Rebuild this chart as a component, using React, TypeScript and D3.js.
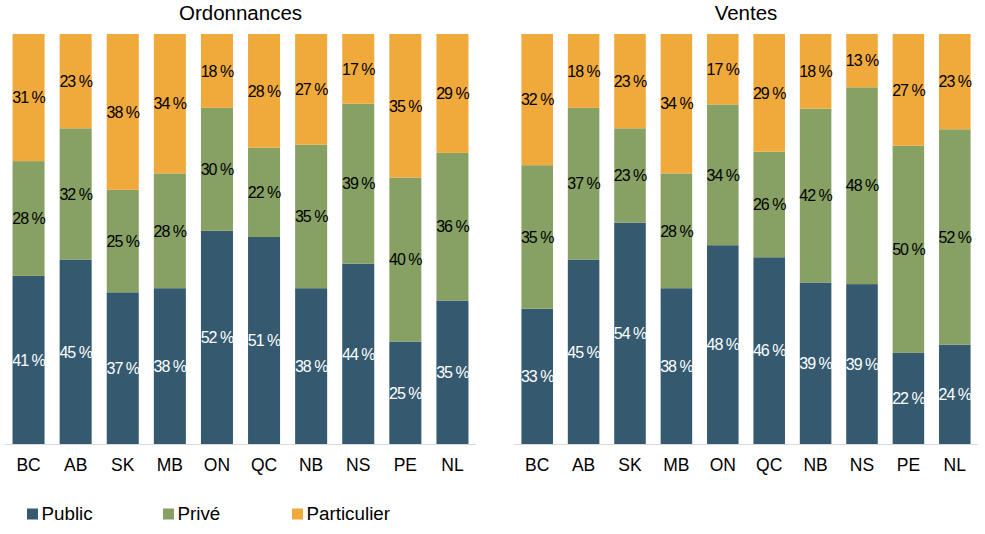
import React from "react";
import * as d3 from "d3";

const provinces = ["BC", "AB", "SK", "MB", "ON", "QC", "NB", "NS", "PE", "NL"];
const seriesNames = ["Public", "Privé", "Particulier"];
const seriesColors = ["#355a70", "#87a064", "#f0aa3c"];

const ordPublic = [41, 45, 37, 38, 52, 51, 38, 44, 25, 35];
const ordPrive = [28, 32, 25, 28, 30, 22, 35, 39, 40, 36];
const ordPart = [31, 23, 38, 34, 18, 28, 27, 17, 35, 29];

const ventPublic = [33, 45, 54, 38, 48, 46, 39, 39, 22, 24];
const ventPrive = [35, 37, 23, 28, 34, 26, 42, 48, 50, 52];
const ventPart = [32, 18, 23, 34, 17, 29, 18, 13, 27, 23];

const panels = [
  { title: "Ordonnances", series: [ordPublic, ordPrive, ordPart], x0: 5, x1: 476 },
  { title: "Ventes", series: [ventPublic, ventPrive, ventPart], x0: 514, x1: 978 },
];

const TOP = 34;
const BOTTOM = 444;
const FONT = "'Liberation Sans', Arial, sans-serif";

function Panel({ title, series, x0, x1 }: { title: string; series: number[][]; x0: number; x1: number }) {
  const rows = provinces.map((p, i) => {
    const r: any = { cat: p };
    seriesNames.forEach((s, k) => (r[s] = series[k][i]));
    return r;
  });
  const stack = d3.stack<any>().keys(seriesNames).offset(d3.stackOffsetExpand);
  const stacked = stack(rows);
  const x = d3.scaleBand<string>().domain(provinces).range([x0, x1]).paddingInner(0.32).paddingOuter(0.16);
  const y = d3.scaleLinear().domain([0, 1]).range([BOTTOM, TOP]);
  return (
    <g>
      <text x={(x0 + x1) / 2} y={20} textAnchor="middle" fontFamily={FONT} fontSize={20.5} fill="#000">
        {title}
      </text>
      {stacked.map((layer, k) => (
        <g key={k}>
          {layer.map((d, i) => (
            <rect
              key={i}
              x={x(provinces[i])}
              width={x.bandwidth()}
              y={y(d[1])}
              height={y(d[0]) - y(d[1])}
              fill={seriesColors[k]}
            />
          ))}
        </g>
      ))}
      {stacked.map((layer, k) => (
        <g key={"l" + k}>
          {layer.map((d, i) => (
            <text
              key={i}
              x={(x(provinces[i]) as number) + x.bandwidth() / 2}
              y={(y(d[0]) + y(d[1])) / 2}
              dy="0.36em"
              textAnchor="middle"
              fontFamily={FONT}
              fontSize={16}
              letterSpacing={-1}
              fill={k === 0 ? "#ffffff" : "#000000"}
              style={{ whiteSpace: "pre" }}
            >
              {series[k][i] + " %"}
            </text>
          ))}
        </g>
      ))}
      <line x1={x0} x2={x1} y1={BOTTOM + 0.5} y2={BOTTOM + 0.5} stroke="#d9d9d9" strokeWidth={1} />
      {provinces.map((p) => (
        <text
          key={p}
          x={(x(p) as number) + x.bandwidth() / 2}
          y={470.5}
          textAnchor="middle"
          fontFamily={FONT}
          fontSize={17.5}
          fill="#000"
        >
          {p}
        </text>
      ))}
    </g>
  );
}

const legendX = [27, 163, 292];

export default function App() {
  return (
    <svg
      width={985}
      height={534}
      style={{ position: "absolute", left: 0, top: 0, display: "block", background: "#fff" }}
    >
      <rect width={985} height={534} fill="#fff" />
      {panels.map((p) => (
        <Panel key={p.title} {...p} />
      ))}
      {seriesNames.map((s, k) => (
        <g key={s}>
          <rect x={legendX[k]} y={508.5} width={11} height={11} fill={seriesColors[k]} />
          <text x={legendX[k] + 14.5} y={519.5} fontFamily={FONT} fontSize={18.8} fill="#000">
            {s}
          </text>
        </g>
      ))}
    </svg>
  );
}
